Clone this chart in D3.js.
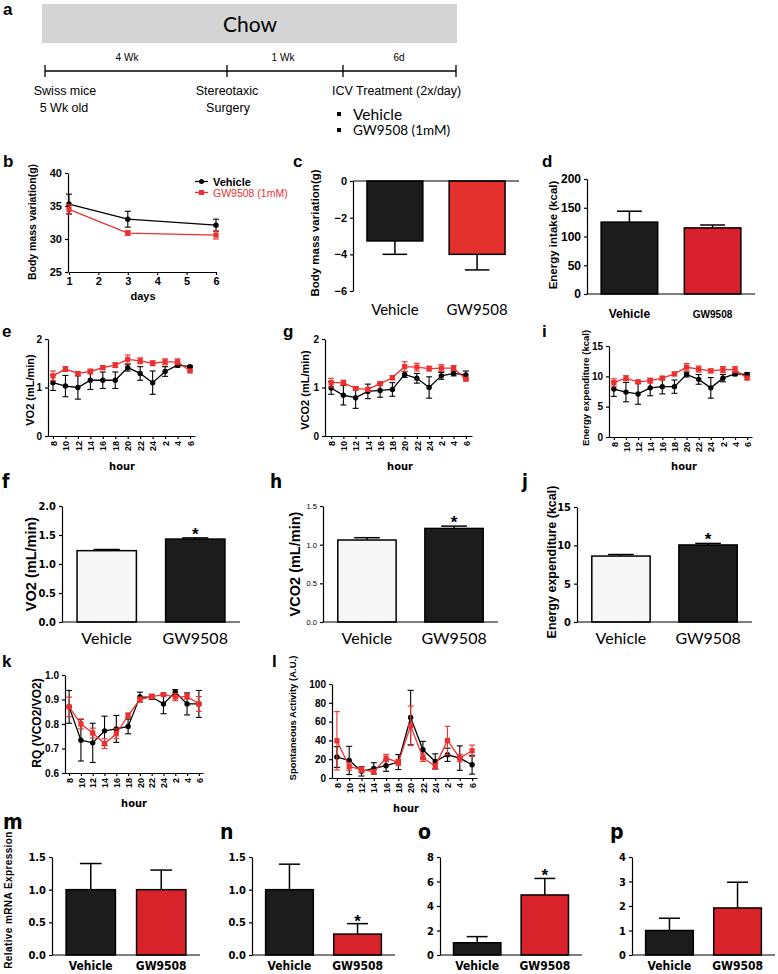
<!DOCTYPE html>
<html>
<head>
<meta charset="utf-8">
<script src="https://cdn.jsdelivr.net/npm/d3@7/dist/d3.min.js"></script>
<style>
body { margin: 0; background: #fff; }
</style>
</head>
<body>
<script>
// ---- data ----
var hours = ["8", "10", "12", "14", "16", "18", "20", "22", "24", "2", "4", "6"];
var groups = ["Vehicle", "GW9508"];
var days = [1, 3, 6];

var massVeh = [35.3, 33.0, 32.1], massVehErr = [1.5, 1.2, 0.9];
var massGW = [34.5, 30.9, 30.6], massGWErr = [0.7, 0.35, 0.6];
var massChange = [-3.27, -4.0], massChangeErr = [0.73, 0.85];
var intake = [125, 115], intakeErr = [19, 5];

var vo2Veh = [1.10, 1.03, 1.00, 1.15, 1.15, 1.15, 1.41, 1.29, 1.10, 1.33, 1.46, 1.43];
var vo2VehErr = [0.16, 0.22, 0.24, 0.19, 0.17, 0.17, 0.07, 0.14, 0.24, 0.10, 0.04, 0.02];
var vo2GW = [1.24, 1.38, 1.29, 1.33, 1.41, 1.46, 1.58, 1.55, 1.50, 1.53, 1.53, 1.34];
var vo2GWErr = [0.10, 0.05, 0.03, 0.05, 0.04, 0.05, 0.09, 0.06, 0.05, 0.06, 0.06, 0.02];

var vco2Veh = [0.99, 0.84, 0.79, 0.92, 0.94, 0.96, 1.27, 1.19, 1.00, 1.24, 1.29, 1.26];
var vco2VehErr = [0.13, 0.20, 0.22, 0.15, 0.14, 0.14, 0.06, 0.10, 0.22, 0.07, 0.05, 0.08];
var vco2GW = [1.10, 1.10, 0.98, 0.96, 1.08, 1.20, 1.43, 1.42, 1.39, 1.40, 1.40, 1.17];
var vco2GWErr = [0.09, 0.05, 0.03, 0.04, 0.04, 0.04, 0.10, 0.08, 0.05, 0.07, 0.05, 0.03];

var eeVeh = [7.9, 7.4, 7.1, 8.1, 8.3, 8.3, 10.3, 9.5, 8.1, 9.7, 10.4, 10.3];
var eeVehErr = [1.2, 1.6, 1.7, 1.3, 1.2, 1.1, 0.4, 0.8, 1.7, 0.6, 0.3, 0.3];
var eeGW = [9.0, 9.7, 9.1, 9.3, 9.7, 10.4, 11.5, 11.2, 10.9, 11.1, 11.1, 9.7];
var eeGWErr = [0.6, 0.4, 0.2, 0.4, 0.3, 0.3, 0.6, 0.5, 0.3, 0.5, 0.5, 0.2];

var vo2Mean = [1.23, 1.43], vo2MeanErr = [0.02, 0.02];
var vco2Mean = [1.06, 1.21], vco2MeanErr = [0.03, 0.03];
var eeMean = [8.6, 10.05], eeMeanErr = [0.2, 0.2];

var rqVeh = [0.87, 0.734, 0.723, 0.772, 0.78, 0.79, 0.91, 0.91, 0.882, 0.93, 0.882, 0.882];
var rqVehErr = [0.067, 0.085, 0.08, 0.06, 0.055, 0.03, 0.02, 0.01, 0.04, 0.01, 0.045, 0.055];
var rqGW = [0.87, 0.80, 0.763, 0.72, 0.76, 0.835, 0.90, 0.912, 0.92, 0.91, 0.912, 0.882];
var rqGWErr = [0.04, 0.02, 0.02, 0.02, 0.02, 0.01, 0.01, 0.01, 0.005, 0.015, 0.01, 0.03];

var actVeh = [22.3, 18.7, 7.1, 10.2, 13.1, 17, 64.3, 30, 17.7, 24.7, 21.2, 14.1];
var actVehErr = [11, 15, 5, 6, 6, 8, 29, 9, 8, 7, 13, 10];
var actGW = [39.6, 12.4, 8.8, 6.7, 21.2, 16.6, 55.5, 21.6, 12.4, 40, 21.2, 29];
var actGWErr = [31, 4, 3, 2, 4, 3, 21, 4, 3, 15, 4, 6];

var mrnaM = [1.0, 1.0], mrnaMErr = [0.4, 0.3];
var mrnaN = [1.0, 0.32], mrnaNErr = [0.39, 0.16];
var mrnaO = [1.0, 4.9], mrnaOErr = [0.5, 1.35];
var mrnaP = [1.0, 1.92], mrnaPErr = [0.5, 1.05];

// ---- drawing ----
var SANS = "'Liberation Sans', Arial, sans-serif";
var NARROW = "'DejaVu Sans Condensed', 'DejaVu Sans', sans-serif";
var CAL = "Lato, 'Open Sans', sans-serif";
var RED = "#ec3030", BARRED = "#d9232b", DARK = "#1c1c1c";

var svg = d3.select("body").append("svg").attr("width", 778).attr("height", 974);

function fontSel(sel, family) {
    sel.style("font-family", family);
    if (family === NARROW) sel.style("font-stretch", "condensed");
    return sel;
}

function label(s, x, y, st) {
    st = st || {};
    var t = svg.append("text").attr("x", x).attr("y", y).text(s)
        .style("font-size", (st.size || 12) + "px")
        .style("font-weight", st.weight || "normal")
        .style("text-anchor", st.anchor || "start")
        .style("fill", st.fill || "#000");
    fontSel(t, st.family || SANS);
    if (st.rotate) t.attr("transform", "rotate(-90," + x + "," + y + ")");
    if (st.spacing) t.style("letter-spacing", st.spacing + "px");
    return t;
}

function styleAxis(g, size, weight, family) {
    g.attr("font-family", null).attr("font-size", null);
    g.select(".domain").attr("stroke", "#000").attr("stroke-width", 1.2);
    g.selectAll(".tick line").attr("stroke", "#000").attr("stroke-width", 1.2);
    var t = g.selectAll("text").attr("fill", "#000").style("fill", "#000")
        .style("font-size", size + "px").style("font-weight", weight);
    fontSel(t, family);
}

function linePanel(o) {
    var x = o.x;
    var y = d3.scaleLinear().domain(o.yDomain).range(o.yRange);

    var xa = svg.append("g").attr("transform", "translate(0," + o.yRange[0] + ")")
        .call(d3.axisBottom(x).tickValues(o.xTicks).tickSize(3).tickSizeOuter(0).tickPadding(2)
            .tickFormat(o.xFmt || null));
    styleAxis(xa, o.xTickSize || 9, "bold", SANS);
    if (o.rotate) {
        xa.selectAll("text").attr("transform", "rotate(-90)")
            .attr("x", -5).attr("y", 0).attr("dy", "0.35em").style("text-anchor", "end");
    }
    var ya = svg.append("g").attr("transform", "translate(" + o.axisX + ",0)")
        .call(d3.axisLeft(y).tickValues(o.yTicks).tickSize(3).tickSizeOuter(0)
            .tickFormat(o.fmt || d3.format("")));
    styleAxis(ya, o.yTickSize || 10, "bold", SANS);

    o.series.forEach(function(s) {
        var pts = o.cats.map(function(c, i) { return { c: c, v: s.values[i], e: s.errors[i] }; });
        var eb = svg.append("g").attr("stroke", s.color).attr("stroke-width", 1.1);
        eb.selectAll(".bar").data(pts).join("line")
            .attr("x1", function(d) { return x(d.c); }).attr("x2", function(d) { return x(d.c); })
            .attr("y1", function(d) { return y(d.v - d.e); }).attr("y2", function(d) { return y(d.v + d.e); });
        [-1, 1].forEach(function(sg) {
            eb.selectAll(".cap" + sg).data(pts).join("line")
                .attr("x1", function(d) { return x(d.c) - 3; }).attr("x2", function(d) { return x(d.c) + 3; })
                .attr("y1", function(d) { return y(d.v + sg * d.e); }).attr("y2", function(d) { return y(d.v + sg * d.e); });
        });
        svg.append("path").datum(pts)
            .attr("d", d3.line().x(function(d) { return x(d.c); }).y(function(d) { return y(d.v); }))
            .attr("fill", "none").attr("stroke", s.color).attr("stroke-width", 1.3);
        var mk = svg.append("g").attr("fill", s.color);
        if (s.shape === "square") {
            mk.selectAll("rect").data(pts).join("rect")
                .attr("x", function(d) { return x(d.c) - 2.6; }).attr("y", function(d) { return y(d.v) - 2.6; })
                .attr("width", 5.2).attr("height", 5.2);
        } else {
            mk.selectAll("circle").data(pts).join("circle")
                .attr("cx", function(d) { return x(d.c); }).attr("cy", function(d) { return y(d.v); })
                .attr("r", 2.7);
        }
    });
    return { x: x, y: y };
}

function barPanel(o) {
    var x = d3.scaleBand().domain(groups).range(o.xRange).paddingInner(o.pi).paddingOuter(o.po);
    var y = d3.scaleLinear().domain(o.yDomain).range(o.yRange);
    var rows = groups.map(function(g, i) {
        return { g: g, v: o.values[i], e: o.errors[i], fill: o.fills[i], star: o.stars ? o.stars[i] : false };
    });
    var bw = x.bandwidth(), cap = bw * 0.22;
    var tip = function(d) { return d.v + (d.v < 0 ? -d.e : d.e); };

    var eb = svg.append("g").attr("stroke", "#000").attr("stroke-width", 1.5);
    eb.selectAll(".v").data(rows).join("line")
        .attr("x1", function(d) { return x(d.g) + bw / 2; }).attr("x2", function(d) { return x(d.g) + bw / 2; })
        .attr("y1", function(d) { return y(d.v); }).attr("y2", function(d) { return y(tip(d)); });
    eb.selectAll(".c").data(rows).join("line")
        .attr("x1", function(d) { return x(d.g) + bw / 2 - cap; }).attr("x2", function(d) { return x(d.g) + bw / 2 + cap; })
        .attr("y1", function(d) { return y(tip(d)); }).attr("y2", function(d) { return y(tip(d)); });

    svg.append("g").selectAll("rect").data(rows).join("rect")
        .attr("x", function(d) { return x(d.g); })
        .attr("y", function(d) { return Math.min(y(d.v), y(0)); })
        .attr("width", bw)
        .attr("height", function(d) { return Math.abs(y(d.v) - y(0)); })
        .attr("fill", function(d) { return d.fill; })
        .attr("stroke", "#000").attr("stroke-width", 1.5);

    var ya = svg.append("g").attr("transform", "translate(" + o.xRange[0] + ",0)")
        .call(d3.axisLeft(y).tickValues(o.yTicks).tickSize(3).tickSizeOuter(0)
            .tickFormat(o.fmt || d3.format("")));
    styleAxis(ya, o.tickSize, o.tickWeight || "bold", o.tickFamily || SANS);
    svg.append("line").attr("x1", o.xRange[0]).attr("x2", o.xRange[1])
        .attr("y1", y(0)).attr("y2", y(0)).attr("stroke", "#000").attr("stroke-width", 1.2);

    var xl = svg.append("g").selectAll("text").data(rows).join("text")
        .attr("x", function(d) { return x(d.g) + bw / 2; })
        .attr("y", o.labelY)
        .text(function(d) { return d.g; })
        .style("text-anchor", "middle")
        .style("font-weight", o.labelWeight || "normal")
        .style("font-size", function(d, i) { return (o.labelSizes ? o.labelSizes[i] : o.labelSize) + "px"; });
    fontSel(xl, o.labelFamily);

    svg.append("g").selectAll("text").data(rows.filter(function(d) { return d.star; })).join("text")
        .attr("x", function(d) { return x(d.g) + bw / 2; })
        .attr("y", function(d) { return y(tip(d)) + (o.starDy || 2); })
        .text("*").style("text-anchor", "middle")
        .style("font-family", SANS).style("font-weight", "bold").style("font-size", "17px");
}

// ---- panel a : timeline ----
label("a", 3, 15, { size: 17, weight: "bold" });
svg.append("rect").attr("x", 42).attr("y", 4).attr("width", 415).attr("height", 39).attr("fill", "#d4d4d4");
label("Chow", 250, 32, { size: 21, family: CAL, anchor: "middle" });
svg.append("line").attr("x1", 45).attr("x2", 456).attr("y1", 71).attr("y2", 71).attr("stroke", "#000").attr("stroke-width", 1.3);
[45, 227, 343, 456].forEach(function(px) {
    svg.append("line").attr("x1", px).attr("x2", px).attr("y1", 65).attr("y2", 77).attr("stroke", "#000").attr("stroke-width", 1.3);
});
label("4 Wk", 127, 61, { size: 10, anchor: "middle" });
label("1 Wk", 283, 61, { size: 10, anchor: "middle" });
label("6d", 399, 61, { size: 10, anchor: "middle" });
label("Swiss mice", 65, 95, { size: 12.5, anchor: "middle" });
label("5 Wk old", 64, 112, { size: 12.5, anchor: "middle" });
label("Stereotaxic", 227, 95, { size: 12.5, anchor: "middle" });
label("Surgery", 228, 112, { size: 12.5, anchor: "middle" });
label("ICV Treatment (2x/day)", 332, 95, { size: 12.5 });
svg.append("rect").attr("x", 337).attr("y", 112).attr("width", 4).attr("height", 4);
label("Vehicle", 353, 120, { size: 15.5, family: CAL });
svg.append("rect").attr("x", 337).attr("y", 128).attr("width", 4).attr("height", 4);
label("GW9508 (1mM)", 353, 135, { size: 13.5, family: CAL });

// ---- panel b : body mass over days ----
label("b", 3, 167, { size: 17, weight: "bold" });
linePanel({
    x: d3.scaleLinear().domain([1, 6]).range([69, 216]),
    xTicks: [1, 2, 3, 4, 5, 6], xFmt: d3.format("d"), cats: days, axisX: 68,
    yDomain: [25, 40], yRange: [272, 173], yTicks: [25, 30, 35, 40],
    xTickSize: 11, yTickSize: 11,
    series: [
        { values: massVeh, errors: massVehErr, color: "#000", shape: "circle" },
        { values: massGW, errors: massGWErr, color: RED, shape: "square" }
    ]
});
label("days", 143, 300, { size: 11, weight: "bold", anchor: "middle" });
label("Body mass variation(g)", 36, 222, { size: 10.5, weight: "bold", anchor: "middle", rotate: true });
svg.append("line").attr("x1", 195).attr("x2", 208).attr("y1", 181.5).attr("y2", 181.5).attr("stroke", "#000").attr("stroke-width", 1.3);
svg.append("circle").attr("cx", 201.5).attr("cy", 181.5).attr("r", 2.5);
label("Vehicle", 213, 185.5, { size: 11, weight: "bold" });
svg.append("line").attr("x1", 195).attr("x2", 208).attr("y1", 192.5).attr("y2", 192.5).attr("stroke", RED).attr("stroke-width", 1.3);
svg.append("rect").attr("x", 199).attr("y", 190).attr("width", 5).attr("height", 5).attr("fill", RED);
label("GW9508 (1mM)", 213, 196.5, { size: 10.5, fill: RED });

// ---- panel c : mass change ----
label("c", 293, 167, { size: 17, weight: "bold" });
barPanel({
    xRange: [353, 519], pi: 0.32, po: 0.17,
    yDomain: [-6, 0], yRange: [291, 181], yTicks: [0, -2, -4, -6], tickSize: 11,
    values: massChange, errors: massChangeErr, fills: [DARK, "#e5312d"],
    labelY: 315, labelFamily: CAL, labelSize: 15
});
label("Body mass variation(g)", 319, 233, { size: 11.5, weight: "bold", anchor: "middle", rotate: true });

// ---- panel d : energy intake ----
label("d", 542, 167, { size: 17, weight: "bold" });
barPanel({
    xRange: [587, 755], pi: 0.32, po: 0.17,
    yDomain: [0, 200], yRange: [294, 179], yTicks: [0, 50, 100, 150, 200], tickSize: 12,
    values: intake, errors: intakeErr, fills: [DARK, "#d9202e"],
    labelY: 318, labelFamily: SANS, labelWeight: "bold", labelSizes: [12, 10]
});
label("Energy intake (kcal)", 557, 235, { size: 11.5, weight: "bold", anchor: "middle", rotate: true });

// ---- panels e, g, i : hourly traces ----
label("e", 2, 337, { size: 17, weight: "bold" });
linePanel({
    x: d3.scalePoint().domain(hours).range([48, 195]).padding(0.4),
    xTicks: hours, cats: hours, axisX: 48, rotate: true,
    yDomain: [0, 2], yRange: [436, 339], yTicks: [0, 1, 2],
    series: [
        { values: vo2Veh, errors: vo2VehErr, color: "#000", shape: "circle" },
        { values: vo2GW, errors: vo2GWErr, color: RED, shape: "square" }
    ]
});
label("VO2 (mL/min)", 34, 390, { size: 11, weight: "bold", anchor: "middle", rotate: true });
label("hour", 122, 470, { size: 11, weight: "bold", family: NARROW, anchor: "middle" });

label("g", 283, 337, { size: 17, weight: "bold" });
linePanel({
    x: d3.scalePoint().domain(hours).range([325, 472]).padding(0.5),
    xTicks: hours, cats: hours, axisX: 325, rotate: true,
    yDomain: [0, 2], yRange: [436, 339], yTicks: [0, 1, 2],
    series: [
        { values: vco2Veh, errors: vco2VehErr, color: "#000", shape: "circle" },
        { values: vco2GW, errors: vco2GWErr, color: RED, shape: "square" }
    ]
});
label("VCO2 (mL/min)", 309, 390, { size: 11, weight: "bold", anchor: "middle", rotate: true });
label("hour", 400, 470, { size: 11, weight: "bold", family: NARROW, anchor: "middle" });

label("i", 542, 337, { size: 17, weight: "bold" });
linePanel({
    x: d3.scalePoint().domain(hours).range([609, 752]).padding(0.4),
    xTicks: hours, cats: hours, axisX: 609, rotate: true,
    yDomain: [0, 15], yRange: [437, 346], yTicks: [0, 5, 10, 15],
    series: [
        { values: eeVeh, errors: eeVehErr, color: "#000", shape: "circle" },
        { values: eeGW, errors: eeGWErr, color: RED, shape: "square" }
    ]
});
label("Energy expenditure (kcal)", 589, 388, { size: 9.5, weight: "bold", anchor: "middle", rotate: true });
label("hour", 684, 470, { size: 11, weight: "bold", family: NARROW, anchor: "middle" });

// ---- panels f, h, j : means ----
label("f", 2, 488, { size: 19, weight: "bold", family: NARROW });
barPanel({
    xRange: [62, 240], pi: 0.33, po: 0.17,
    yDomain: [0, 2], yRange: [622, 506], yTicks: [0, 0.5, 1, 1.5, 2], fmt: d3.format(".1f"),
    tickSize: 11, tickFamily: NARROW,
    values: vo2Mean, errors: vo2MeanErr, fills: ["#f7f7f7", DARK], stars: [false, true], starDy: 0,
    labelY: 644, labelFamily: CAL, labelSize: 16
});
label("VO2 (mL/min)", 36, 564, { size: 14.5, weight: "bold", anchor: "middle", rotate: true });

label("h", 270, 488, { size: 19, weight: "bold", family: NARROW });
barPanel({
    xRange: [323, 498], pi: 0.33, po: 0.17,
    yDomain: [0, 1.5], yRange: [622, 506], yTicks: [0, 0.5, 1, 1.5], fmt: d3.format(".1f"),
    tickSize: 7.5, tickWeight: "normal",
    values: vco2Mean, errors: vco2MeanErr, fills: ["#f7f7f7", DARK], stars: [false, true], starDy: 0,
    labelY: 644, labelFamily: CAL, labelSize: 16
});
label("VCO2 (mL/min)", 300, 564, { size: 14.5, weight: "bold", anchor: "middle", rotate: true });

label("j", 522, 488, { size: 19, weight: "bold", family: NARROW });
barPanel({
    xRange: [577, 752], pi: 0.33, po: 0.17,
    yDomain: [0, 15], yRange: [622, 507], yTicks: [0, 5, 10, 15],
    tickSize: 11, tickFamily: NARROW,
    values: eeMean, errors: eeMeanErr, fills: ["#f7f7f7", DARK], stars: [false, true], starDy: 0,
    labelY: 644, labelFamily: CAL, labelSize: 16
});
label("Energy expenditure (kcal)", 556, 562, { size: 12.5, weight: "bold", anchor: "middle", rotate: true });

// ---- panels k, l ----
label("k", 2, 667, { size: 17, weight: "bold" });
linePanel({
    x: d3.scalePoint().domain(hours).range([65, 203]).padding(0.35),
    xTicks: hours, cats: hours, axisX: 65, rotate: true,
    yDomain: [0.6, 1.0], yRange: [773, 675], yTicks: [0.6, 0.7, 0.8, 0.9, 1.0], fmt: d3.format(".1f"),
    yTickSize: 10,
    series: [
        { values: rqVeh, errors: rqVehErr, color: "#000", shape: "circle" },
        { values: rqGW, errors: rqGWErr, color: RED, shape: "square" }
    ]
});
label("RQ (VCO2/VO2)", 41, 723, { size: 12, weight: "bold", anchor: "middle", rotate: true });
label("hour", 134, 807, { size: 11, weight: "bold", family: NARROW, anchor: "middle" });

label("l", 272, 667, { size: 17, weight: "bold" });
linePanel({
    x: d3.scalePoint().domain(hours).range([332, 477]).padding(0.4),
    xTicks: hours, cats: hours, axisX: 332, rotate: true,
    yDomain: [0, 100], yRange: [778, 684], yTicks: [0, 20, 40, 60, 80, 100],
    series: [
        { values: actVeh, errors: actVehErr, color: "#000", shape: "circle" },
        { values: actGW, errors: actGWErr, color: RED, shape: "square" }
    ]
});
label("Spontaneous Activity (A.U.)", 296, 718, { size: 9.5, weight: "bold", anchor: "middle", rotate: true });
label("hour", 406, 812, { size: 11, weight: "bold", family: NARROW, anchor: "middle" });

// ---- panels m-p : mRNA ----
label("Relative mRNA Expression", 12, 900, { size: 10, weight: "bold", anchor: "middle", rotate: true, spacing: 0.4 });
var mrnaPanels = [
    { key: "m", lx: 3, ly: 829, vals: mrnaM, errs: mrnaMErr, range: [52, 200], dom: [0, 1.5], ticks: [0, 0.5, 1, 1.5], fmt: d3.format(".1f"), stars: [false, false] },
    { key: "n", lx: 220, ly: 839, vals: mrnaN, errs: mrnaNErr, range: [252, 395], dom: [0, 1.5], ticks: [0, 0.5, 1, 1.5], fmt: d3.format(".1f"), stars: [false, true] },
    { key: "o", lx: 418, ly: 839, vals: mrnaO, errs: mrnaOErr, range: [440, 582], dom: [0, 8], ticks: [0, 2, 4, 6, 8], fmt: d3.format(""), stars: [false, true] },
    { key: "p", lx: 610, ly: 839, vals: mrnaP, errs: mrnaPErr, range: [632, 775], dom: [0, 4], ticks: [0, 1, 2, 3, 4], fmt: d3.format(""), stars: [false, false] }
];
mrnaPanels.forEach(function(p) {
    label(p.key, p.lx, p.ly, { size: 21, weight: "bold", family: NARROW });
    barPanel({
        xRange: p.range, pi: 0.3, po: 0.2,
        yDomain: p.dom, yRange: [955, 857], yTicks: p.ticks, fmt: p.fmt,
        tickSize: 11, tickFamily: NARROW,
        values: p.vals, errors: p.errs, fills: [DARK, BARRED], stars: p.stars, starDy: 3,
        labelY: 970, labelFamily: NARROW, labelWeight: "bold", labelSize: 12
    });
});
</script>
</body>
</html>
